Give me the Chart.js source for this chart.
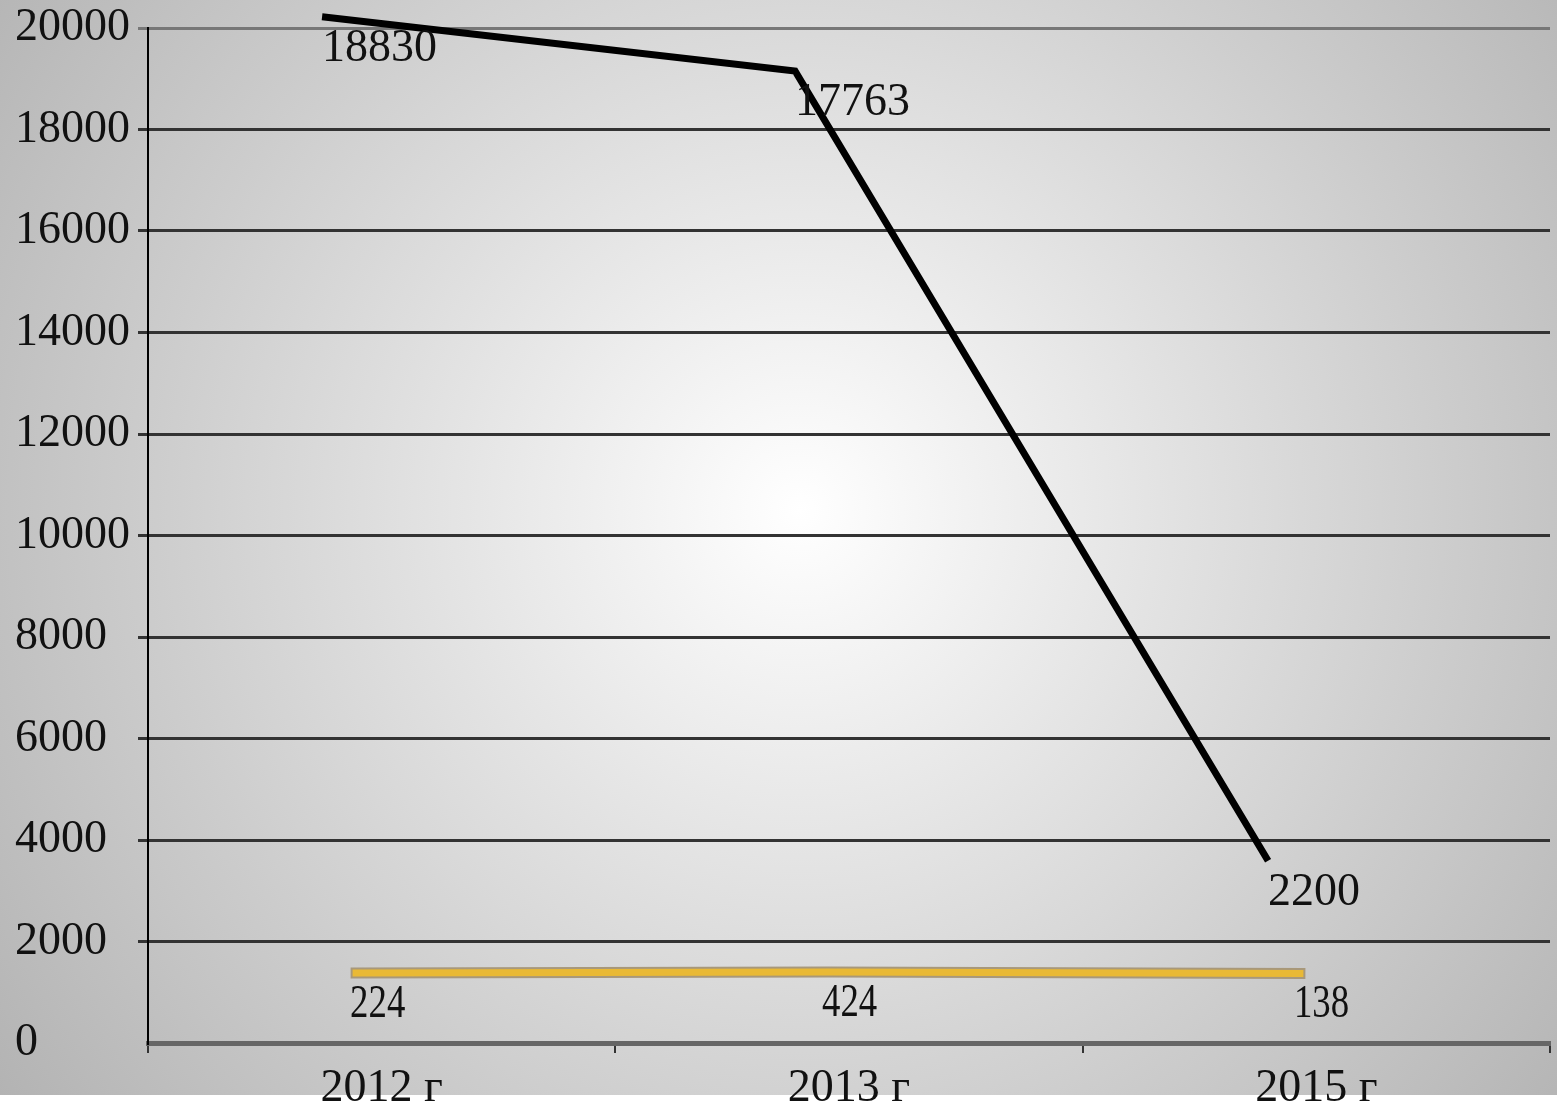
<!DOCTYPE html>
<html>
<head>
<meta charset="utf-8">
<script src="https://cdn.jsdelivr.net/npm/chart.js@4/dist/chart.umd.min.js"></script>
<style>
body { margin: 0; background: #fff; }
#bg {
  position: absolute; left: 0; top: 0; width: 1557px; height: 1095px;
  background: radial-gradient(circle farthest-corner at 800px 510px, #ffffff 0%, #e4e4e4 35%, #cdcdcd 65%, #b3b3b3 100%);
}
#myChart { position: absolute; left: 0; top: 0; }
</style>
</head>
<body>
<div id="bg"></div>
<canvas id="myChart" width="1557" height="1112"></canvas>
<script>
// data
const years = ['2012 г', '2013 г', '2015 г'];
const totalCount = [18830, 17763, 2200];
const smallCount = [224, 424, 138];
const yMin = 0, yMax = 20000, yStep = 2000;

const serif = "'Liberation Serif', 'Times New Roman', serif";

// draws the value next to each point
const valueLabels = {
    id: 'valueLabels',
    afterDatasetsDraw(chart) {
        const ctx = chart.ctx;
        chart.data.datasets.forEach((ds, i) => {
            if (!ds.showValues) return;
            const meta = chart.getDatasetMeta(i);
            meta.data.forEach((pt, j) => {
                ctx.save();
                ctx.font = '46px ' + serif;
                ctx.fillStyle = '#111';
                ctx.textAlign = 'left';
                ctx.textBaseline = 'alphabetic';
                ctx.translate(pt.x + ds.labelDx, pt.y + 44);
                ctx.scale(ds.labelScale, 1);
                ctx.fillText(String(ds.values[j]), 0, 0);
                ctx.restore();
            });
        });
    }
};

function points(arr) {
    return arr.map((v, i) => ({ x: i, y: v }));
}

var ctx = document.getElementById('myChart').getContext('2d');
var chart = new Chart(ctx, {
    type: 'line',
    data: {
        labels: years,
        datasets: [{
            label: 'total',
            data: points(totalCount),
            values: totalCount,
            showValues: true,
            labelDx: 0,
            labelScale: 1,
            xAxisID: 'xBack',
            yAxisID: 'yBack',
            borderColor: '#000',
            borderWidth: 7,
            pointRadius: 0,
            tension: 0,
            clip: false,
            order: 0
        }, {
            label: 'small',
            data: points(smallCount),
            values: smallCount,
            showValues: true,
            labelDx: -6,
            labelScale: 0.8,
            xAxisID: 'xFront',
            yAxisID: 'yFront',
            borderColor: '#e9b935',
            borderWidth: 7,
            borderCapStyle: 'square',
            pointRadius: 0,
            clip: false,
            order: 1
        }, {
            label: 'small-edge',
            data: points(smallCount),
            xAxisID: 'xFront',
            yAxisID: 'yFront',
            borderColor: '#a8987a',
            borderWidth: 11,
            borderCapStyle: 'square',
            pointRadius: 0,
            clip: false,
            order: 2
        }]
    },
    options: {
        responsive: false,
        animation: false,
        layout: { padding: { left: 15, top: 28, right: 7, bottom: 0 } },
        plugins: { legend: { display: false }, tooltip: { enabled: false } },
        scales: {
            x: {
                type: 'category',
                offset: true,
                grid: { offset: true, drawOnChartArea: false, drawTicks: true, tickLength: 10, color: '#333', lineWidth: 2 },
                border: { display: true, color: '#666', width: 5 },
                ticks: { color: '#111', font: { family: serif, size: 46 }, padding: 8, maxRotation: 0 },
                afterFit: s => { s.height = 69; }
            },
            y: {
                min: yMin, max: yMax,
                ticks: {
                    stepSize: yStep, crossAlign: 'far', color: '#111',
                    font: { family: serif, size: 46, lineHeight: 1 }, padding: 4,
                    callback: v => String(v)
                },
                grid: {
                    tickLength: 10,
                    lineWidth: 3,
                    color: c => c.tick.value === yMin ? 'rgba(0,0,0,0)' : (c.tick.value === yMax ? '#777' : '#333')
                },
                border: { display: true, color: '#000', width: 2 },
                afterFit: s => { s.width = 133; }
            },
            // depth offsets of the two ribbons
            xBack: { type: 'linear', display: false, min: -0.368, max: 2.596 },
            yBack: { type: 'linear', display: false, min: -1390, max: 18610 },
            xFront: { type: 'linear', display: false, min: -0.441, max: 2.53 },
            yFront: { type: 'linear', display: false, min: -13776, max: 189224 }
        }
    },
    plugins: [valueLabels]
});
</script>
</body>
</html>
